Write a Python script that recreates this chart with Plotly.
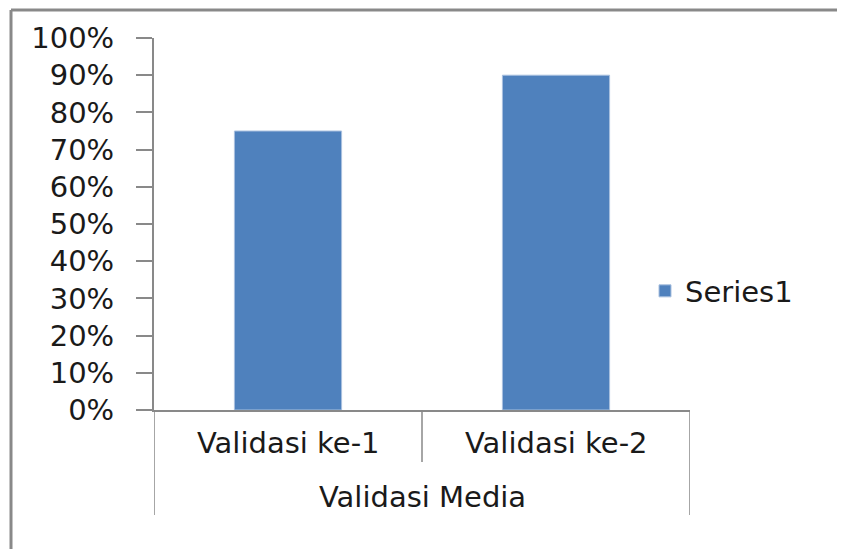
import plotly.graph_objects as go

# data
categories = ["Validasi ke-1", "Validasi ke-2"]
group_label = "Validasi Media"
series_name = "Series1"
values = [0.75, 0.90]

# pixel layout of the reference (845 x 549); page body adds an 8px offset
OFF = 8
W, H = 845 - OFF, 549 - OFF
left, right, top, bottom = 154 - OFF, 690 - OFF, 38 - OFF, 410 - OFF
pw, ph = right - left, bottom - top


def px(x):
    return (x - OFF - left) / pw


def py(y):
    return (bottom - (y - OFF)) / ph


grey = "#898989"
txt = "#1a1a1a"
font = dict(family="DejaVu Sans", size=29, color=txt)

fig = go.Figure()
fig.add_trace(go.Bar(
    x=categories, y=values, name=series_name,
    marker=dict(color="#4F81BD", line=dict(color="#a9c0df", width=1)),
    showlegend=True,
))

shapes = [
    # outer chart border (top and left visible)
    dict(type="line", xref="paper", yref="paper", x0=px(11), x1=px(860),
         y0=py(10), y1=py(10), line=dict(color=grey, width=3)),
    dict(type="line", xref="paper", yref="paper", x0=px(11), x1=px(11),
         y0=py(10), y1=py(560), line=dict(color=grey, width=3)),
]
# category dividers going down below the axis
for i, x in enumerate([-0.5, 0.5, 1.5]):
    end = 462 if i == 1 else 515
    shapes.append(dict(type="line", xref="x", yref="paper", x0=x, x1=x,
                       y0=0, y1=py(end), line=dict(color=grey, width=1.5)))

annotations = []
for i, c in enumerate(categories):
    annotations.append(dict(text=c, x=i, xref="x", y=py(443), yref="paper",
                            showarrow=False, font=font, yanchor="middle"))
annotations.append(dict(text=group_label, x=0.5, xref="x", y=py(497), yref="paper",
                        showarrow=False, font=font, yanchor="middle"))

fig.update_layout(
    width=W, height=H,
    margin=dict(l=left, r=W - right, t=top, b=H - bottom),
    paper_bgcolor="white", plot_bgcolor="white",
    font=font,
    bargap=0.6,
    shapes=shapes,
    annotations=annotations,
    legend=dict(x=px(645), y=py(291), xanchor="left", yanchor="middle",
                font=font, bgcolor="rgba(0,0,0,0)"),
    xaxis=dict(range=[-0.5, 1.5], showticklabels=False, showgrid=False,
               showline=True, linecolor=grey, linewidth=1.5, ticks="",
               fixedrange=True),
    yaxis=dict(range=[0, 1], dtick=0.1, tickformat=".0%", showgrid=False,
               showline=True, linecolor=grey, linewidth=2, ticks="outside",
               ticklen=16, tickcolor=grey, tickwidth=1.5, ticklabelstandoff=16,
               zeroline=False, tickfont=font, fixedrange=True),
)

fig.write_html("out.html")
